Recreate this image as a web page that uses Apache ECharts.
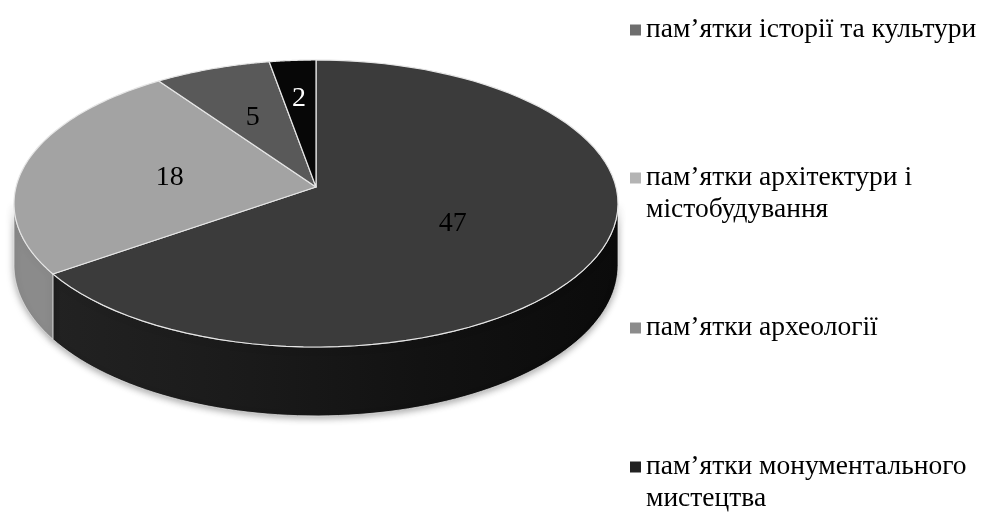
<!DOCTYPE html>
<html>
<head>
<meta charset="utf-8">
<script src="https://cdn.jsdelivr.net/npm/echarts@6/dist/echarts.min.js"></script>
<style>
html,body{margin:0;padding:0;background:#fff;}
#chart{width:989px;height:518px;}
</style>
</head>
<body>
<div id="chart"></div>
<script>
// ---- data ----
const categories = [
  'пам’ятки історії та культури',
  'пам’ятки архітектури і\nмістобудування',
  'пам’ятки археології',
  'пам’ятки монументального\nмистецтва'
];
const values = [47, 18, 5, 2];

// ---- styles ----
const topColors = ['#3b3b3b', '#a3a3a3', '#595959', '#070707'];
const wallColors = [
  {type:'linear', x:0, y:0, x2:1, y2:0, colorStops:[
    {offset:0, color:'#222222'}, {offset:0.35, color:'#1a1a1a'},
    {offset:0.65, color:'#121212'}, {offset:1, color:'#0b0b0b'}]},
  '#8b8b8b', '#454545', '#000000'
];
const legendColors = ['#6e6e6e', '#b4b4b4', '#8c8c8c', '#222222'];
const labelColors = ['#000', '#000', '#000', '#fff'];

// ---- 3D projection constants (layout) ----
const CX = 316, CY = 187, RX = 300, RY = 141.6, P = 0.115, H = 61;
const VIS0 = Math.acos(-P) * 180 / Math.PI;       // left/right silhouette angles
const VIS1 = 360 - VIS0;

const total = values.reduce((a, b) => a + b, 0);
const cum = [0];
values.forEach(v => cum.push(cum[cum.length - 1] + v));

function proj(deg, f, dz) {
  const t = deg * Math.PI / 180;
  const u = f * Math.sin(t), v = -f * Math.cos(t);
  const d = 1 - P * v;
  return [CX + RX * u / d, CY + RY * v / d + dz * H / d];
}

function renderItem(params, api) {
  const i = params.dataIndex;
  const val = api.value(0);
  const start = cum[i] / total * 360;
  const end = (cum[i] + val) / total * 360;
  const children = [];
  const N = 80;
  // visible outer wall
  const a = Math.max(start, VIS0), b = Math.min(end, VIS1);
  if (a < b) {
    const pts = [];
    for (let k = 0; k <= N; k++) pts.push(proj(a + (b - a) * k / N, 1, 0));
    for (let k = N; k >= 0; k--) pts.push(proj(a + (b - a) * k / N, 1, 1));
    children.push({
      type: 'polygon', z2: 1,
      shape: {points: pts},
      style: {fill: wallColors[i], stroke: 'rgba(235,235,235,0.7)', lineWidth: 1,
              shadowBlur: 7, shadowColor: 'rgba(0,0,0,0.35)', shadowOffsetY: 2}
    });
  }
  // top face
  const tp = [proj(0, 0, 0)];
  for (let k = 0; k <= N; k++) tp.push(proj(start + (end - start) * k / N, 1, 0));
  children.push({
    type: 'polygon', z2: 5,
    shape: {points: tp},
    style: {fill: topColors[i], stroke: '#e6e6e6', lineWidth: 1.2, lineJoin: 'round'}
  });
  // label
  const share = val / total;
  const f = share >= 0.1 ? 0.5 : 0.5 + (0.1 - share) * 2.8;
  const lp = proj((start + end) / 2, f, 0);
  children.push({
    type: 'text', z2: 10,
    style: {text: String(val), x: lp[0], y: lp[1] + 3, fill: labelColors[i],
            font: '28px "Liberation Serif", "Times New Roman", serif',
            align: 'center', verticalAlign: 'middle'}
  });
  return {type: 'group', children: children};
}

const legendTops = [14, 130, 312, 419];
const legends = categories.map((c, i) => ({
  data: [c],
  left: 630,
  top: legendTops[i],
  orient: 'vertical',
  padding: 0,
  icon: 'rect',
  itemWidth: 11,
  itemHeight: 11,
  selectedMode: false,
  formatter: name => (name.indexOf('\n') >= 0 ? '\n' + name : name),
  textStyle: {
    fontFamily: '"Liberation Serif", "Times New Roman", serif',
    fontSize: 27.5, color: '#000', lineHeight: 32
  }
}));

const chart = echarts.init(document.getElementById('chart'), null, {renderer: 'canvas'});
chart.setOption({
  backgroundColor: '#ffffff',
  animation: false,
  legend: legends,
  series: [
    {
      type: 'pie',
      silent: true,
      radius: [0, 0],
      center: [CX, CY],
      label: {show: false},
      labelLine: {show: false},
      data: categories.map((c, i) => ({name: c, value: values[i], itemStyle: {color: legendColors[i]}}))
    },
    {
      type: 'custom',
      coordinateSystem: 'none',
      silent: true,
      renderItem: renderItem,
      data: values.map((v, i) => ({name: categories[i], value: [v]}))
    }
  ]
});
</script>
</body>
</html>
